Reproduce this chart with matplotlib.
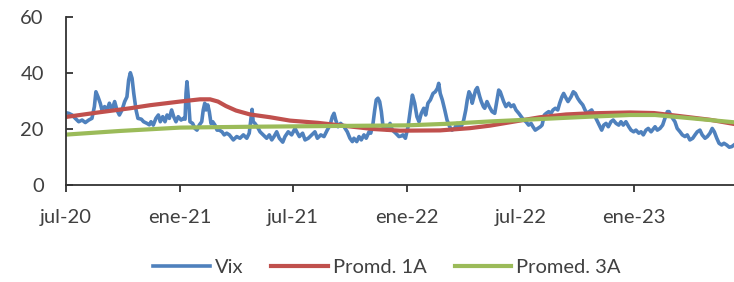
import matplotlib
matplotlib.use("Agg")
import matplotlib.pyplot as plt

plt.rcParams['font.family'] = ['Lato', 'DejaVu Sans']

# x = months since jul-2020
vix_m = [0.00, 0.14, 0.32, 0.49, 0.67, 0.85, 1.02, 1.20, 1.37, 1.50,
         1.58, 1.69, 1.81, 1.90, 2.04, 2.17, 2.29, 2.43, 2.57, 2.69,
         2.82, 2.96, 3.10, 3.22, 3.31, 3.40, 3.49, 3.58, 3.70, 3.80,
         3.98, 4.10, 4.28, 4.40, 4.49, 4.61, 4.75, 4.88, 4.98, 5.11,
         5.23, 5.34, 5.46, 5.58, 5.69, 5.81, 5.93, 6.08, 6.20, 6.29,
         6.34, 6.39, 6.46, 6.55, 6.69, 6.81, 6.92, 7.04, 7.17, 7.25,
         7.33, 7.40, 7.49, 7.57, 7.66, 7.75, 7.87, 7.98, 8.10, 8.24,
         8.36, 8.49, 8.63, 8.77, 8.84, 9.02, 9.19, 9.37, 9.55, 9.68,
         9.76, 9.83, 9.89, 9.98, 10.11, 10.25, 10.42, 10.60, 10.74, 10.87,
         10.99, 11.13, 11.27, 11.45, 11.57, 11.74, 11.92, 12.10, 12.19, 12.33,
         12.50, 12.63, 12.80, 12.98, 13.15, 13.28, 13.46, 13.63, 13.80, 13.95,
         14.07, 14.16, 14.25, 14.37, 14.51, 14.69, 14.86, 15.00, 15.13, 15.21,
         15.36, 15.48, 15.60, 15.74, 15.86, 16.01, 16.10, 16.22, 16.31, 16.39,
         16.48, 16.57, 16.66, 16.75, 16.85, 16.97, 17.12, 17.24, 17.42, 17.59,
         17.71, 17.80, 17.93, 18.07, 18.19, 18.30, 18.42, 18.54, 18.65, 18.77,
         18.90, 19.00, 19.12, 19.25, 19.39, 19.51, 19.62, 19.69, 19.77, 19.88,
         20.01, 20.13, 20.27, 20.39, 20.53, 20.66, 20.76, 20.88, 21.01, 21.12,
         21.20, 21.29, 21.38, 21.46, 21.55, 21.64, 21.73, 21.86, 21.94, 22.05,
         22.12, 22.24, 22.36, 22.51, 22.65, 22.77, 22.86, 22.94, 23.03, 23.12,
         23.24, 23.39, 23.51, 23.65, 23.77, 23.92, 24.05, 24.18, 24.30, 24.44,
         24.57, 24.67, 24.79, 24.92, 25.06, 25.15, 25.27, 25.37, 25.50, 25.62,
         25.73, 25.85, 25.98, 26.08, 26.20, 26.29, 26.42, 26.52, 26.68, 26.80,
         26.91, 27.03, 27.15, 27.30, 27.42, 27.52, 27.65, 27.77, 27.91, 28.04,
         28.17, 28.30, 28.41, 28.53, 28.65, 28.79, 28.91, 29.06, 29.20, 29.32,
         29.44, 29.58, 29.73, 29.85, 29.99, 30.11, 30.26, 30.38, 30.50, 30.64,
         30.76, 30.91, 31.12, 31.24, 31.38, 31.52, 31.64, 31.77, 31.86, 31.95,
         32.05, 32.17, 32.29, 32.44, 32.56, 32.70, 32.82, 32.96, 33.11, 33.23,
         33.35, 33.49, 33.61, 33.76, 33.88, 34.02, 34.14, 34.25, 34.38, 34.50,
         34.64, 34.76, 34.90, 35.04, 35.17, 35.29]
vix = [25.8, 25.6, 25.0, 23.8, 22.6, 23.2, 22.3, 23.2, 23.8, 28.0,
       33.3, 31.5, 29.2, 26.8, 28.0, 26.8, 29.2, 26.8, 29.8, 26.8,
       25.0, 26.8, 29.8, 31.5, 37.5, 40.1, 38.1, 32.7, 26.8, 23.8,
       23.5, 22.6, 22.0, 21.5, 22.6, 21.4, 23.8, 25.0, 22.6, 24.4,
       22.6, 25.0, 23.8, 26.8, 24.4, 22.6, 24.4, 23.2, 23.8, 23.5,
       32.7, 36.9, 31.5, 22.6, 22.0, 20.2, 19.6, 21.4, 22.6, 26.8,
       29.2, 26.8, 28.6, 26.2, 22.0, 22.6, 21.4, 19.6, 19.6, 19.0,
       17.9, 18.5, 17.9, 16.7, 16.1, 17.3, 16.7, 17.9, 16.7, 18.5,
       23.2, 27.0, 22.6, 22.0, 20.8, 19.0, 17.9, 16.7, 17.9, 16.1,
       17.3, 19.0, 16.7, 15.3, 17.3, 19.0, 17.9, 20.2, 19.0, 17.3,
       18.5, 16.1, 16.7, 17.9, 19.0, 16.7, 17.9, 17.3, 19.6, 21.4,
       24.4, 25.6, 23.2, 20.8, 22.0, 20.8, 19.0, 16.7, 15.5, 16.7,
       15.5, 17.3, 16.1, 17.9, 16.7, 19.0, 18.5, 22.0, 26.8, 30.4,
       31.0, 29.8, 26.2, 20.8, 20.2, 19.6, 22.0, 19.6, 18.5, 17.3,
       17.5, 17.9, 16.7, 20.8, 26.8, 32.1, 29.2, 24.4, 22.6, 25.6,
       27.4, 25.0, 29.2, 30.4, 32.7, 33.3, 34.5, 36.3, 32.7, 30.4,
       26.8, 23.2, 20.8, 19.6, 20.2, 22.0, 20.2, 20.8, 23.2, 26.8,
       30.4, 33.3, 32.1, 29.2, 31.5, 33.9, 34.8, 31.5, 29.8, 28.0,
       27.4, 29.8, 28.0, 26.2, 25.6, 30.4, 33.9, 33.3, 31.5, 29.8,
       28.0, 29.2, 28.0, 28.6, 26.8, 25.6, 24.4, 23.2, 22.6, 21.4,
       22.0, 20.8, 19.6, 20.2, 20.8, 21.4, 25.0, 25.6, 26.2, 25.6,
       26.8, 27.4, 26.8, 29.2, 31.5, 32.7, 31.0, 29.8, 31.5, 33.3,
       32.7, 31.0, 29.8, 28.6, 26.8, 25.6, 26.2, 26.8, 25.0, 23.2,
       21.4, 19.6, 21.4, 22.0, 20.8, 22.6, 23.2, 22.0, 21.4, 22.6,
       21.4, 22.6, 20.8, 19.6, 19.0, 19.6, 18.5, 19.0, 17.9, 19.6,
       20.2, 19.0, 20.8, 19.6, 20.2, 21.4, 23.8, 26.2, 26.2, 25.0,
       23.8, 22.6, 20.2, 19.0, 17.9, 17.3, 17.9, 16.1, 16.7, 17.9,
       19.0, 19.6, 17.9, 16.7, 17.3, 18.5, 20.2, 19.0, 16.7, 14.9,
       14.3, 14.9, 14.3, 13.5, 13.7, 14.3]

prom1_m = [0, 1.80, 3.38, 4.44, 6.02, 7.08, 7.61, 8.03, 8.45, 8.98,
           9.72, 10.78, 11.83, 13.31, 14.48, 16.22, 17.64, 19.76, 21.34, 22.40,
           23.98, 25.04, 26.42, 27.68, 29.80, 31.06, 32.44, 34.02, 35.29]
prom1 = [24.3, 26.0, 27.4, 28.5, 29.8, 30.6, 30.6, 29.8, 28.2, 26.6,
         25.2, 24.2, 23.0, 22.2, 21.3, 20.0, 19.4, 19.5, 20.3, 21.2,
         23.0, 24.2, 25.2, 25.6, 25.9, 25.7, 24.6, 23.3, 21.8]

prom3_m = [0, 2.85, 6.02, 9.72, 14.48, 18.01, 20.29, 22.40, 23.98, 26.10,
           27.68, 29.80, 31.12, 32.44, 34.02, 35.29]
prom3 = [18.0, 19.3, 20.5, 20.8, 21.1, 21.3, 21.9, 22.7, 23.2, 23.9,
         24.4, 25.0, 25.0, 24.2, 23.2, 22.4]

tick_pos = [0, 6, 12, 18, 24, 30]
tick_lab = ['jul-20', 'ene-21', 'jul-21', 'ene-22', 'jul-22', 'ene-23']

txt = '#404040'
fig = plt.figure(figsize=(7.34, 2.82), dpi=100)
ax = fig.add_axes([66/734, 97/282, 668/734, 168/282])

ax.plot(vix_m, vix, color='#4F81BD', lw=2.6, solid_joinstyle='round', label='Vix')
ax.plot(prom1_m, prom1, color='#C0504D', lw=3.0, solid_joinstyle='round', label='Promd. 1A')
ax.plot(prom3_m, prom3, color='#9BBB59', lw=3.0, solid_joinstyle='round', label='Promed. 3A')

ax.set_xlim(0, 35.29)
ax.set_ylim(0, 60)
ax.set_yticks([0, 20, 40, 60])
ax.set_xticks(tick_pos)
ax.set_xticklabels(tick_lab)

for s in ['top', 'right']:
    ax.spines[s].set_visible(False)
for s in ['left', 'bottom']:
    ax.spines[s].set_color('#333333')
    ax.spines[s].set_linewidth(1.3)

ax.tick_params(axis='y', direction='in', length=5, width=1.3, color='#333333',
               labelsize=14.5, labelcolor=txt, pad=16)
ax.tick_params(axis='x', direction='out', length=5, width=1.3, color='#333333',
               labelsize=14.5, labelcolor=txt, pad=12)

fig.legend(loc='center', bbox_to_anchor=(0.527, 0.05), ncol=3, frameon=False,
           fontsize=14.5, labelcolor=txt, handlelength=2.8, handletextpad=0.25,
           columnspacing=1.4)

fig.savefig('out.png', dpi=100)
